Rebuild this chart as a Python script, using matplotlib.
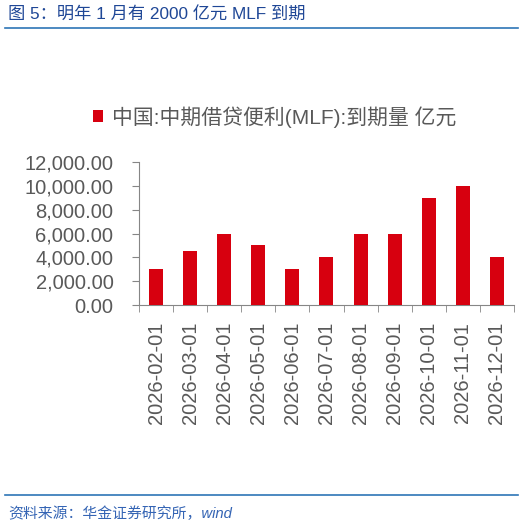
import matplotlib
matplotlib.use('Agg')
import matplotlib.pyplot as plt
from matplotlib.lines import Line2D
from matplotlib.ticker import FuncFormatter

# Data
dates = ['2026-02-01', '2026-03-01', '2026-04-01', '2026-05-01', '2026-06-01',
         '2026-07-01', '2026-08-01', '2026-09-01', '2026-10-01', '2026-11-01',
         '2026-12-01']
mlf_due = [3000, 4500, 6000, 5000, 3000, 4000, 6000, 6000, 9000, 10000, 4000]
y_ticks = [0, 2000, 4000, 6000, 8000, 10000, 12000]

title = '图 5：明年 1 月有 2000 亿元 MLF 到期'
legend_label = '中国:中期借贷便利(MLF):到期量 亿元'
source = '资料来源：华金证券研究所，wind'

plt.rcParams['font.family'] = ['Liberation Sans', 'Noto Sans CJK SC', 'DejaVu Sans']

red = '#d7000f'
gray_text = '#595959'
gray_axis = '#868686'
navy = '#1f4796'
line_blue = '#2e75b6'

fig = plt.figure(figsize=(5.27, 5.26), dpi=100)
ax = fig.add_axes([0.264, 0.420, 0.711, 0.272])

x = list(range(len(dates)))
ax.bar(x, mlf_due, width=0.41, color=red, label=legend_label, zorder=3)

ax.set_xlim(-0.5, len(dates) - 0.5)
ax.set_ylim(0, 12000)
ax.set_yticks(y_ticks)
ax.yaxis.set_major_formatter(FuncFormatter(lambda v, p: f'{v:,.2f}'))

# labels at centers, tick marks at category boundaries
ax.set_xticks(x)
ax.set_xticklabels(dates, rotation=90)
ax.set_xticks([i - 0.5 for i in range(len(dates) + 1)], minor=True)
ax.tick_params(axis='x', which='major', length=0, pad=12, labelsize=14.5, labelcolor=gray_text)
ax.tick_params(axis='x', which='minor', length=5, direction='out', color=gray_axis)
ax.tick_params(axis='y', length=5, direction='out', color=gray_axis, labelsize=14.5,
               labelcolor=gray_text, pad=13.5)

for s in ['top', 'right']:
    ax.spines[s].set_visible(False)
for s in ['left', 'bottom']:
    ax.spines[s].set_color(gray_axis)
    ax.spines[s].set_linewidth(0.8)

# legend above the plot
leg = fig.legend(loc='center left', bbox_to_anchor=(0.140, 0.778), frameon=False,
                 handlelength=0.5, handleheight=0.5, handletextpad=0.45,
                 prop={'size': 15})
for t in leg.get_texts():
    t.set_color(gray_text)

# title and source with rules
fig.text(0.015, 0.972, title, fontsize=12.4, color=navy, va='center', ha='left')
fig.add_artist(Line2D([0.01, 0.982], [0.947, 0.947], color=line_blue, lw=1.2))
fig.add_artist(Line2D([0.01, 0.982], [0.058, 0.058], color=line_blue, lw=1.2))
fig.text(0.015, 0.024, source, fontsize=10.7, color='#3464b4', style='italic',
         va='center', ha='left')

fig.savefig('out.png', dpi=100)
